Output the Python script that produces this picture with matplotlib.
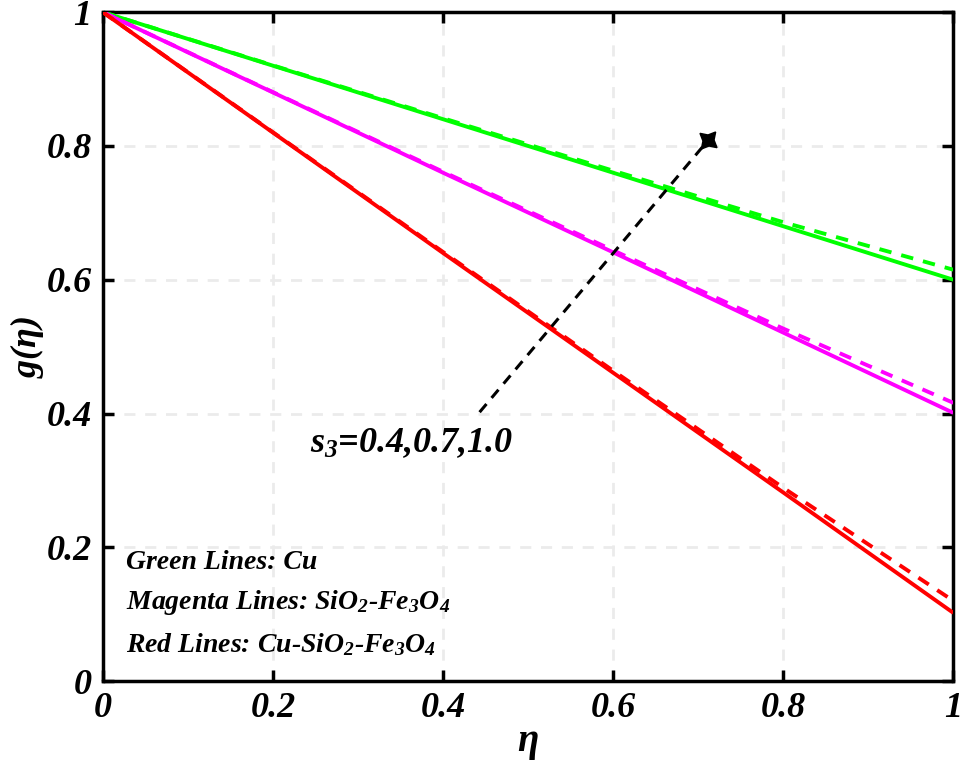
import matplotlib
matplotlib.use('Agg')
import matplotlib.pyplot as plt
import numpy as np

plt.rcParams['font.family'] = 'Liberation Serif'
plt.rcParams['font.weight'] = 'bold'
plt.rcParams['font.style'] = 'italic'
plt.rcParams['mathtext.fontset'] = 'custom'
plt.rcParams['mathtext.rm'] = 'Liberation Serif:bold:italic'
plt.rcParams['mathtext.it'] = 'Liberation Serif:bold:italic'
plt.rcParams['mathtext.bf'] = 'Liberation Serif:bold:italic'

# data
eta = [0.0, 0.2, 0.4, 0.6, 0.8, 1.0]
g_cu_solid = [1.0, 0.920, 0.840, 0.760, 0.680, 0.600]
g_cu_dash = [1.0, 0.9205, 0.8415, 0.7630, 0.6860, 0.615]
g_sf_solid = [1.0, 0.880, 0.760, 0.641, 0.521, 0.401]
g_sf_dash = [1.0, 0.8805, 0.7615, 0.6440, 0.5270, 0.416]
g_csf_solid = [1.0, 0.820, 0.640, 0.461, 0.282, 0.102]
g_csf_dash = [1.0, 0.8205, 0.6415, 0.4640, 0.2890, 0.120]

arrow_start = (0.443, 0.402)
arrow_end = (0.712, 0.809)

ticks = [0, 0.2, 0.4, 0.6, 0.8, 1]
tick_labels = ['0', '0.2', '0.4', '0.6', '0.8', '1']

fig = plt.figure(figsize=(9.61, 7.61), dpi=100)
ax = fig.add_axes([0.107, 0.105, 0.885, 0.879])

series = [
    (g_cu_solid, g_cu_dash, '#00ff00'),
    (g_sf_solid, g_sf_dash, '#ff00ff'),
    (g_csf_solid, g_csf_dash, '#ff0000'),
]
for solid, dash, col in series:
    ax.plot(eta, solid, color=col, lw=2.8, solid_capstyle='butt', zorder=3)
    ax.plot(eta, dash, color=col, lw=2.8, dashes=(3.2, 2.6), zorder=3)

# arrow with star head
ax.plot([arrow_start[0], arrow_end[0]], [arrow_start[1], arrow_end[1]],
        color='black', lw=2.2, dashes=(3.5, 2.6), zorder=4)
ang = np.degrees(np.arctan2((arrow_end[1] - arrow_start[1]) * 669,
                            (arrow_end[0] - arrow_start[0]) * 850))
ax.plot([arrow_end[0]], [arrow_end[1]], marker=(4, 1, ang - 90), ms=16,
        color='black', zorder=5)

ax.text(0.244, 0.355, r'$s_3$=0.4,0.7,1.0', fontsize=26, ha='left', va='center')

ax.text(0.027, 0.178, 'Green Lines: Cu', fontsize=20, ha='left', va='center')
ax.text(0.027, 0.118, r'Magenta Lines: SiO$_2$-Fe$_3$O$_4$', fontsize=20,
        ha='left', va='center')
ax.text(0.027, 0.054, r'Red Lines: Cu-SiO$_2$-Fe$_3$O$_4$', fontsize=20,
        ha='left', va='center')

ax.set_xlim(0, 1)
ax.set_ylim(0, 1)
ax.set_xticks(ticks)
ax.set_yticks(ticks)
ax.set_xticklabels(tick_labels)
ax.set_yticklabels(tick_labels)
ax.tick_params(direction='in', length=8, width=2.5, labelsize=26,
               top=True, right=True, pad=8)
for s in ax.spines.values():
    s.set_linewidth(2.5)
ax.grid(True, color='#ebebeb', lw=2, dashes=(4, 3.5))
ax.set_axisbelow(True)

ax.set_xlabel(r'$\eta$', fontsize=28, labelpad=0)
ax.set_ylabel(r'$g(\eta)$', fontsize=26, labelpad=0)

fig.savefig('out.png', dpi=100)
